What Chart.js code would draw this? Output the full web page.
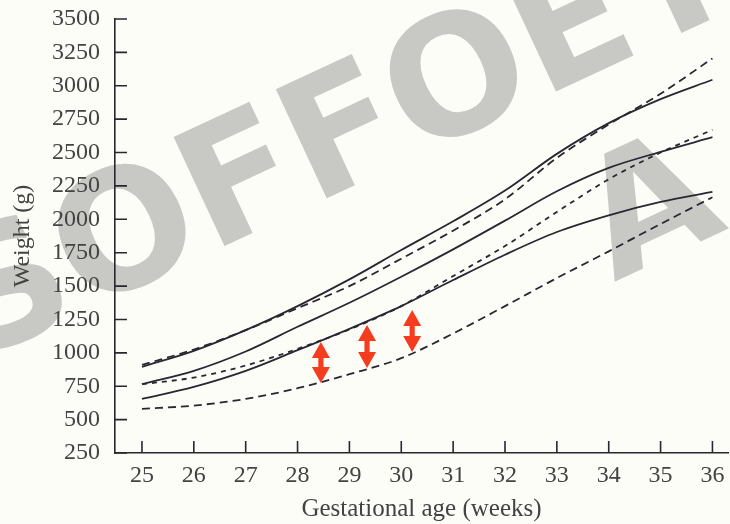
<!DOCTYPE html>
<html>
<head>
<meta charset="utf-8">
<script src="https://cdn.jsdelivr.net/npm/chart.js@4.4.1/dist/chart.umd.min.js"></script>
<style>
  html, body { margin: 0; padding: 0; background: #fdfdf8; }
  #wrap { width: 730px; height: 524px; }
</style>
</head>
<body>
<div id="wrap"><canvas id="growthChart"></canvas></div>
<script>
// Gestational age (weeks) and weight ticks
const weeks = [25, 26, 27, 28, 29, 30, 31, 32, 33, 34, 35, 36];
const weightTicks = [250, 500, 750, 1000, 1250, 1500, 1750, 2000, 2250, 2500, 2750, 3000, 3250, 3500];

// Weight curves (g)
const upperSolid  = [895, 1015, 1170, 1350, 1550, 1770, 1985, 2215, 2490, 2720, 2900, 3045];
const upperDashed = [910, 1025, 1170, 1335, 1500, 1705, 1915, 2150, 2460, 2710, 2940, 3205];
const middleSolid = [765, 865, 1010, 1195, 1375, 1570, 1775, 1990, 2210, 2385, 2505, 2615];
const middleDashed = [765, 815, 905, 1030, 1175, 1350, 1575, 1800, 2055, 2300, 2500, 2670];
const lowerSolid  = [655, 745, 865, 1020, 1180, 1350, 1545, 1735, 1905, 2030, 2130, 2205];
const lowerDashed = [580, 605, 655, 735, 840, 960, 1145, 1350, 1560, 1760, 1965, 2165];

// Red double arrows (week, top weight, bottom weight)
const arrowWeeks = [28.45, 29.34, 30.21];
const arrowTops = [1081, 1208, 1320];
const arrowBottoms = [774, 886, 1006];

const INK = '#2a2632';
const LABEL = '#434343';
const SERIF = '"Liberation Serif", "Times New Roman", serif';

function series(values, dash) {
    return {
        data: weeks.map((w, i) => ({ x: w, y: values[i] })),
        borderColor: INK,
        borderWidth: 1.8,
        borderDash: dash,
        pointRadius: 0,
        cubicInterpolationMode: 'monotone',
        fill: false
    };
}

// Background + big grey watermark behind everything
const watermark = {
    id: 'watermark',
    beforeDraw(chart) {
        const ctx = chart.ctx;
        const angle = -25 * Math.PI / 180;
        ctx.save();
        ctx.fillStyle = '#fdfdf8';
        ctx.fillRect(0, 0, chart.width, chart.height);
        ctx.fillStyle = '#c8c8c4';
        ctx.font = 'bold 165px "DejaVu Sans", sans-serif';
        ctx.save();
        ctx.translate(-24, 362);
        ctx.rotate(angle);
        ctx.fillText('SOFFOET', 0, 0);
        ctx.restore();
        ctx.translate(614, 282);
        ctx.rotate(angle);
        ctx.fillText('A', 0, 0);
        ctx.restore();
    }
};

// Inward tick marks and the red arrows
function drawArrow(ctx, px, top, bottom) {
    const hw = 9, hl = 16, sw = 2.6;
    ctx.beginPath();
    ctx.moveTo(px, top);
    ctx.lineTo(px + hw, top + hl);
    ctx.lineTo(px + sw, top + hl);
    ctx.lineTo(px + sw, bottom - hl);
    ctx.lineTo(px + hw, bottom - hl);
    ctx.lineTo(px, bottom);
    ctx.lineTo(px - hw, bottom - hl);
    ctx.lineTo(px - sw, bottom - hl);
    ctx.lineTo(px - sw, top + hl);
    ctx.lineTo(px - hw, top + hl);
    ctx.closePath();
    ctx.fill();
}

const decorations = {
    id: 'decorations',
    afterDraw(chart) {
        const { ctx, chartArea } = chart;
        const x = chart.scales.x, y = chart.scales.y;
        ctx.save();
        ctx.strokeStyle = INK;
        ctx.lineWidth = 1.6;
        ctx.beginPath();
        x.ticks.forEach(t => {
            const px = x.getPixelForValue(t.value);
            ctx.moveTo(px, chartArea.bottom);
            ctx.lineTo(px, chartArea.bottom - 12);
        });
        y.ticks.forEach(t => {
            const py = y.getPixelForValue(t.value);
            ctx.moveTo(chartArea.left, py);
            ctx.lineTo(chartArea.left + 12, py);
        });
        ctx.stroke();

        ctx.fillStyle = '#f63c1e';
        arrowWeeks.forEach((w, i) => {
            drawArrow(ctx, x.getPixelForValue(w), y.getPixelForValue(arrowTops[i]), y.getPixelForValue(arrowBottoms[i]));
        });
        ctx.restore();
    }
};

new Chart(document.getElementById('growthChart'), {
    type: 'line',
    data: {
        datasets: [
            series(upperSolid, []),
            series(upperDashed, [8, 5]),
            series(middleSolid, []),
            series(middleDashed, [5, 5]),
            series(lowerSolid, []),
            series(lowerDashed, [8, 5])
        ]
    },
    options: {
        responsive: true,
        maintainAspectRatio: false,
        animation: false,
        layout: { padding: { top: 19, right: 2, left: 0, bottom: 0 } },
        plugins: {
            legend: { display: false },
            tooltip: { enabled: false }
        },
        scales: {
            x: {
                type: 'linear',
                min: 24.48,
                max: 36.3,
                afterBuildTicks: s => { s.ticks = weeks.map(v => ({ value: v })); },
                afterFit: s => { s.height = 71; s.paddingLeft = 0; s.paddingRight = 0; },
                grid: { display: false, drawTicks: false },
                border: { display: true, color: INK, width: 1.6 },
                ticks: { color: LABEL, padding: 8, callback: v => String(v), font: { family: SERIF, size: 24 } },
                title: {
                    display: true,
                    text: 'Gestational age (weeks)',
                    color: LABEL,
                    padding: { top: 0, bottom: 0 },
                    font: { family: SERIF, size: 25 }
                }
            },
            y: {
                min: 250,
                max: 3500,
                afterBuildTicks: s => { s.ticks = weightTicks.map(v => ({ value: v })); },
                afterFit: s => { s.width = 115; s.paddingTop = 0; s.paddingBottom = 0; },
                grid: { display: false, drawTicks: false },
                border: { display: true, color: INK, width: 1.6 },
                ticks: { color: LABEL, padding: 15, callback: v => String(v), font: { family: SERIF, size: 24 } },
                title: {
                    display: true,
                    text: 'Weight (g)',
                    color: LABEL,
                    padding: { top: 8, bottom: 0 },
                    font: { family: SERIF, size: 24 }
                }
            }
        }
    },
    plugins: [watermark, decorations]
});
</script>
</body>
</html>
